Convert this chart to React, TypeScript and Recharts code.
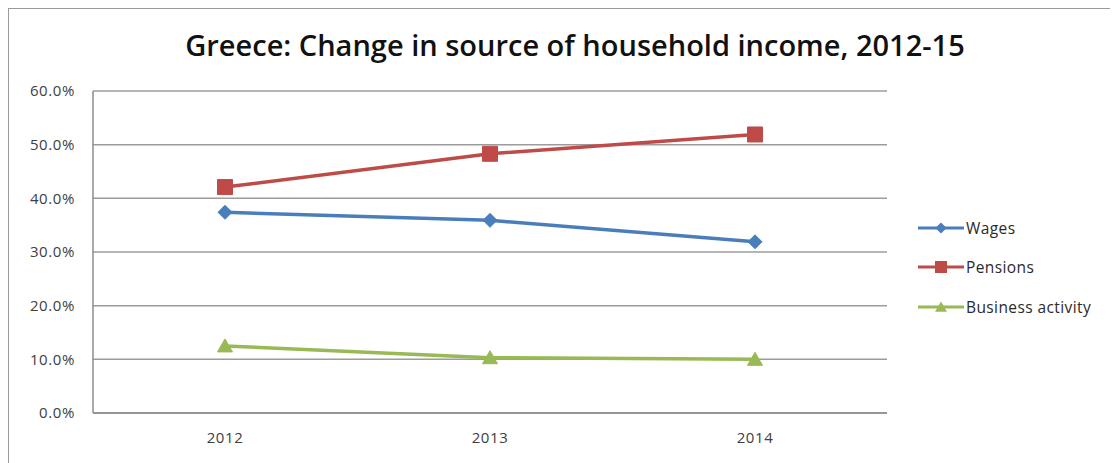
import {
  CartesianGrid,
  Legend,
  Line,
  LineChart,
  XAxis,
  YAxis,
} from "recharts";

const years = ["2012", "2013", "2014"];
const wages = [37.4, 35.9, 31.9];
const pensions = [42.1, 48.3, 51.9];
const business = [12.5, 10.3, 10.0];
const yTicks = [0, 10, 20, 30, 40, 50, 60];

const data = years.map((year, i) => ({
  year,
  wages: wages[i],
  pensions: pensions[i],
  business: business[i],
}));

const FONT = "'Open Sans', sans-serif";
const BLUE = "#4a7ebb";
const RED = "#be4b48";
const GREEN = "#98b954";

type Shape = "diamond" | "square" | "triangle";

const markerPath = (shape: Shape, cx: number, cy: number, s = 1) => {
  if (shape === "diamond") {
    const r = 7 * s;
    return `M${cx},${cy - r}L${cx + r},${cy}L${cx},${cy + r}L${cx - r},${cy}Z`;
  }
  if (shape === "square") {
    const r = 7.5 * s;
    return `M${cx - r},${cy - r}H${cx + r}V${cy + r}H${cx - r}Z`;
  }
  return `M${cx},${cy - 7 * s}L${cx + 7.5 * s},${cy + 6 * s}L${cx - 7.5 * s},${cy + 6 * s}Z`;
};

const makeDot = (shape: Shape, color: string) => (props: any) => {
  const { cx, cy, index } = props;
  return (
    <path
      key={`${shape}-${index}`}
      d={markerPath(shape, cx, cy)}
      fill={color}
      stroke={color}
      strokeWidth={1}
    />
  );
};

const legendItems: { label: string; color: string; shape: Shape }[] = [
  { label: "Wages", color: BLUE, shape: "diamond" },
  { label: "Pensions", color: RED, shape: "square" },
  { label: "Business activity", color: GREEN, shape: "triangle" },
];

const LegendContent = () => (
  <div style={{ paddingLeft: 31 }}>
    {legendItems.map((item) => (
      <div
        key={item.label}
        style={{
          height: 39.5,
          display: "flex",
          alignItems: "center",
          whiteSpace: "nowrap",
        }}
      >
        <svg width={46} height={16} style={{ marginRight: 2, flexShrink: 0 }}>
          <line x1={0} y1={8} x2={46} y2={8} stroke={item.color} strokeWidth={3} />
          <path d={markerPath(item.shape, 23, 8, 0.8)} fill={item.color} />
        </svg>
        <span
          style={{
            fontFamily: FONT,
            fontSize: 15.5,
            letterSpacing: 0.4,
            color: "#2a2a2a",
          }}
        >
          {item.label}
        </span>
      </div>
    ))}
  </div>
);

const tickStyle = {
  fontFamily: FONT,
  fontSize: 15,
  fill: "#404040",
  letterSpacing: 0.6,
};

export default function App() {
  return (
    <div
      style={{
        position: "relative",
        width: 1110,
        height: 455,
        borderLeft: "1px solid #9a9a9a",
        borderTop: "1px solid #9a9a9a",
        background: "#fff",
      }}
    >
      <div
        style={{
          position: "absolute",
          top: 16,
          left: 0,
          width: 1132,
          textAlign: "center",
          fontFamily: FONT,
          fontWeight: 600,
          fontSize: 29,
          color: "#111",
        }}
      >
        Greece: Change in source of household income, 2012-15
      </div>
      <LineChart
        width={1100}
        height={450}
        data={data}
        margin={{ top: 82, right: 32, bottom: 16, left: 0 }}
      >
        <CartesianGrid vertical={false} stroke="#9c9c9c" strokeWidth={1.5} />
        <XAxis
          dataKey="year"
          padding={{ left: 132, right: 132 }}
          axisLine={{ stroke: "#8c8c8c", strokeWidth: 1.5 }}
          tickLine={false}
          tickMargin={13}
          height={30}
          tick={tickStyle}
        />
        <YAxis
          domain={[0, 60]}
          ticks={yTicks}
          width={84}
          axisLine={{ stroke: "#8c8c8c", strokeWidth: 1.5 }}
          tickLine={false}
          tickMargin={12}
          tickFormatter={(v: number) => `${v.toFixed(1)}%`}
          tick={tickStyle}
        />
        <Legend
          layout="vertical"
          align="right"
          verticalAlign="middle"
          width={190}
          wrapperStyle={{ top: 199 }}
          content={<LegendContent />}
        />
        <Line
          dataKey="wages"
          name="Wages"
          stroke={BLUE}
          strokeWidth={3.5}
          dot={makeDot("diamond", BLUE)}
          isAnimationActive={false}
        />
        <Line
          dataKey="pensions"
          name="Pensions"
          stroke={RED}
          strokeWidth={3.5}
          dot={makeDot("square", RED)}
          isAnimationActive={false}
        />
        <Line
          dataKey="business"
          name="Business activity"
          stroke={GREEN}
          strokeWidth={3.5}
          dot={makeDot("triangle", GREEN)}
          isAnimationActive={false}
        />
      </LineChart>
    </div>
  );
}
